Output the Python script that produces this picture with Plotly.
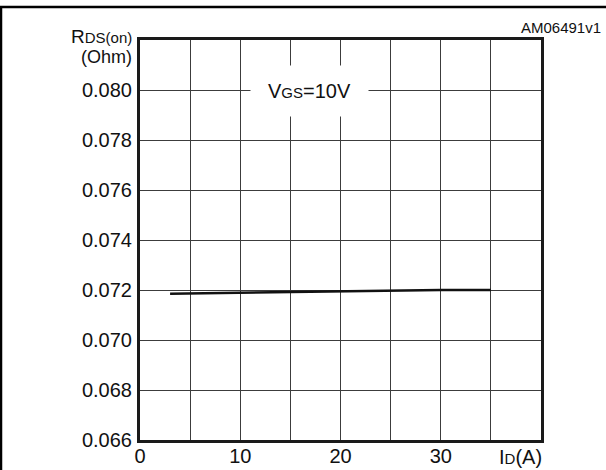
import plotly.graph_objects as go

# Data
id_a = [3, 10, 15, 20, 25, 30, 35]
rds_on = [0.07185, 0.07189, 0.07193, 0.07196, 0.07200, 0.07200, 0.07200]

x_tickvals = [0, 5, 10, 15, 20, 25, 30, 35, 40]
x_ticktext = ["0", "", "10", "", "20", "", "30", "", ""]
y_tickvals = [0.066, 0.068, 0.070, 0.072, 0.074, 0.076, 0.078, 0.080, 0.082]
y_ticktext = ["0.066", "0.068", "0.070", "0.072", "0.074", "0.076", "0.078", "0.080", ""]

FONT = "Liberation Sans, Arial, Helvetica, sans-serif"
W, H = 606, 470
L, R, T, B = 140, 65, 40, 30
pw, ph = W - L - R, H - T - B

def px(x):
    return (x - L) / pw

def py(y):
    return (H - B - y) / ph

fig = go.Figure()
fig.add_trace(go.Scatter(x=id_a, y=rds_on, mode="lines",
                         line=dict(color="#111111", width=2.5),
                         showlegend=False, hoverinfo="skip"))

fig.update_layout(
    template="none",
    width=W, height=H, autosize=False,
    margin=dict(l=L, r=R, t=T, b=B, pad=0, autoexpand=False),
    paper_bgcolor="white", plot_bgcolor="white",
    font=dict(family=FONT, color="#111111", size=20),
    showlegend=False,
    xaxis=dict(range=[0, 40], tickvals=x_tickvals, ticktext=x_ticktext,
               showgrid=True, gridcolor="#3c3c3c", gridwidth=1,
               showline=True, linecolor="#1a1a1a", linewidth=3, mirror=True,
               ticks="", zeroline=False, tickfont=dict(size=20),
               ticklabelstandoff=-4, automargin=False),
    yaxis=dict(range=[0.066, 0.082], tickvals=y_tickvals, ticktext=y_ticktext,
               showgrid=True, gridcolor="#3c3c3c", gridwidth=1,
               showline=True, linecolor="#1a1a1a", linewidth=3, mirror=True,
               ticks="", zeroline=False, tickfont=dict(size=20),
               ticklabelstandoff=1, automargin=False),
)

# V_GS annotation with white box masking grid
fig.add_annotation(x=16.95, y=0.07996, xref="x", yref="y",
                   text='V<span style="font-size:15px">GS</span>=10V',
                   showarrow=False, bgcolor="white", width=115, height=48,
                   font=dict(size=20, family=FONT, color="#111111"))

# Y axis title
fig.add_annotation(x=px(134), y=py(37), xref="paper", yref="paper",
                   xanchor="right", yanchor="middle", showarrow=False,
                   text='R<span style="font-size:15px">DS(on)</span>',
                   font=dict(size=19, family=FONT, color="#111111"))
fig.add_annotation(x=px(134), y=py(57), xref="paper", yref="paper",
                   xanchor="right", yanchor="middle", showarrow=False,
                   text='(Ohm)',
                   font=dict(size=18, family=FONT, color="#111111"))

# X axis title
fig.add_annotation(x=px(544), y=py(457), xref="paper", yref="paper",
                   xanchor="right", yanchor="middle", showarrow=False,
                   text='I<span style="font-size:15px">D</span>(A)',
                   font=dict(size=20, family=FONT, color="#111111"))

# Figure code
fig.add_annotation(x=px(603), y=py(28), xref="paper", yref="paper",
                   xanchor="right", yanchor="middle", showarrow=False,
                   text='AM06491v1',
                   font=dict(size=15, family=FONT, color="#111111"))

# Outer frame (top and left edges)
fig.add_shape(type="line", xref="paper", yref="paper",
              x0=px(0), x1=px(606), y0=py(7), y1=py(7),
              line=dict(color="black", width=2.5))
fig.add_shape(type="line", xref="paper", yref="paper",
              x0=px(1), x1=px(1), y0=py(7), y1=py(470),
              line=dict(color="black", width=2.5))

fig.write_html("out.html",
               config={"displayModeBar": False, "responsive": False},
               post_script="document.body.style.margin='0px';document.body.style.overflow='hidden';")
